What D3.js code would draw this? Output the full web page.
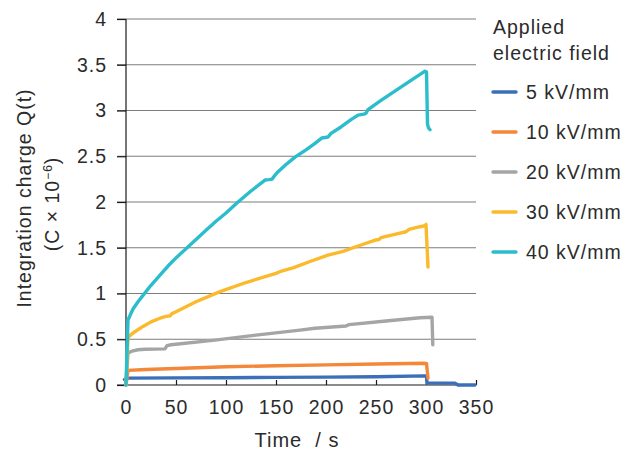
<!DOCTYPE html>
<html>
<head>
<meta charset="utf-8">
<script src="https://cdn.jsdelivr.net/npm/d3@7"></script>
<style>
  html, body { margin: 0; padding: 0; background: #fff; }
  svg { display: block; font-family: "Liberation Sans", Arial, Helvetica, sans-serif; }
  svg text { letter-spacing: 1px; }
</style>
</head>
<body>
<svg id="chart" width="641" height="453"></svg>
<script>
// Integration charge Q(t) (×10^-6 C) against time (s) for each applied field
const fieldLabels = ["5 kV/mm", "10 kV/mm", "20 kV/mm", "30 kV/mm", "40 kV/mm"];
const seriesColors = ["#3b6fb8", "#f3873a", "#a4a6a5", "#fbb92c", "#2bbdcc"];

const t5  = [-1.5, 2, 50, 100, 150, 200, 250, 299, 300.5, 301, 329, 332, 349];
const q5  = [0.06, 0.075, 0.078, 0.08, 0.083, 0.086, 0.09, 0.10, 0.10, 0.02, 0.02, 0.0, 0.0];

const t10 = [0, 2, 20, 50, 100, 150, 200, 250, 299, 300.5, 302];
const q10 = [0, 0.16, 0.17, 0.18, 0.20, 0.21, 0.22, 0.23, 0.237, 0.235, 0.075];

const t20 = [0, 2, 6, 12, 19, 39, 41, 45, 89, 130, 174, 189, 220, 223, 260, 294, 306, 306.8];
const q20 = [0, 0.35, 0.37, 0.385, 0.39, 0.395, 0.43, 0.44, 0.49, 0.545, 0.60, 0.62, 0.645, 0.66, 0.70, 0.735, 0.74, 0.44];

const t30 = [0, 2, 6, 10, 17, 25, 34, 40, 44, 46, 50, 70, 94, 120, 150, 153, 157, 167, 184, 202, 217, 235, 250, 253, 255, 274, 280, 283, 294, 299, 300, 302];
const q30 = [0, 0.52, 0.56, 0.59, 0.64, 0.69, 0.73, 0.75, 0.755, 0.78, 0.80, 0.91, 1.02, 1.12, 1.22, 1.235, 1.25, 1.28, 1.35, 1.42, 1.46, 1.53, 1.585, 1.59, 1.61, 1.66, 1.675, 1.70, 1.73, 1.74, 1.755, 1.29];

const t40 = [0, 2, 4, 7, 12, 17, 25, 34, 42, 51, 60, 70, 80, 90, 100, 112, 125, 139, 143, 146, 148, 151, 160, 169, 180, 189, 196, 202, 205, 215, 225, 232, 238, 240, 242, 255, 270, 285, 299, 300.5, 301.5, 302.5, 304];
const q40 = [0, 0.71, 0.76, 0.83, 0.91, 0.98, 1.09, 1.20, 1.30, 1.40, 1.49, 1.59, 1.69, 1.79, 1.88, 2.00, 2.12, 2.24, 2.245, 2.25, 2.28, 2.32, 2.41, 2.49, 2.57, 2.64, 2.70, 2.71, 2.75, 2.82, 2.90, 2.95, 2.96, 2.97, 3.01, 3.11, 3.22, 3.33, 3.43, 3.42, 2.85, 2.81, 2.79];

const xTicks = [0, 50, 100, 150, 200, 250, 300, 350];
const yTicks = [0, 0.5, 1, 1.5, 2, 2.5, 3, 3.5, 4];
const yTickLabels = ["0", "0.5", "1", "1.5", "2", "2.5", "3", "3.5", "4"];

const seriesT = [t5, t10, t20, t30, t40];
const seriesQ = [q5, q10, q20, q30, q40];

const svg = d3.select("#chart");
const textColor = "#2b2b2b";
const fontSize = 19.5;

const x = d3.scaleLinear().domain([0, 350]).range([126, 476]);
const y = d3.scaleLinear().domain([0, 4]).range([385, 19]);

// horizontal grid lines (extending left of the axis as tick marks)
svg.append("g")
  .selectAll("line")
  .data(yTicks.filter(v => v > 0))
  .join("line")
  .attr("x1", 117).attr("x2", 476)
  .attr("y1", d => y(d)).attr("y2", d => y(d))
  .attr("stroke", "#7d7d7d").attr("stroke-width", 1.2);

// y axis
const yAxis = svg.append("g")
  .attr("transform", `translate(${x(0)},0)`)
  .call(d3.axisLeft(y).tickValues(yTicks).tickFormat((d, i) => yTickLabels[i]).tickSize(9).tickPadding(10));
yAxis.select(".domain").attr("stroke", "#1a1a1a").attr("stroke-width", 1.2).attr("d", `M0,${y(4)}V${y(0)}`);
yAxis.selectAll(".tick line").attr("stroke", "#1a1a1a").attr("stroke-width", 1.2);
yAxis.selectAll(".tick text").attr("fill", textColor).attr("font-size", fontSize);

// x axis with inward tick marks
const xAxis = svg.append("g")
  .attr("transform", `translate(0,${y(0)})`)
  .call(d3.axisBottom(x).tickValues(xTicks).tickSize(-5).tickPadding(15));
xAxis.select(".domain").attr("stroke", "#1a1a1a").attr("stroke-width", 1.2).attr("d", `M117,0H${x(350)}`);
xAxis.selectAll(".tick line").attr("stroke", "#1a1a1a").attr("stroke-width", 1.2);
xAxis.selectAll(".tick text").attr("fill", textColor).attr("font-size", fontSize);

// series curves
const lineGen = d3.line().x(d => x(d[0])).y(d => y(d[1]));
seriesT.forEach((ts, i) => {
  const pts = ts.map((t, j) => [t, seriesQ[i][j]]);
  svg.append("path")
    .datum(pts)
    .attr("d", lineGen)
    .attr("fill", "none")
    .attr("stroke", seriesColors[i])
    .attr("stroke-width", 3.4)
    .attr("stroke-linejoin", "round")
    .attr("stroke-linecap", "round");
});

// axis titles
svg.append("text")
  .attr("x", 297).attr("y", 447)
  .attr("text-anchor", "middle")
  .attr("fill", textColor).attr("font-size", 20)
  .attr("xml:space", "preserve")
  .text("Time  / s");

const yTitle = svg.append("g").attr("transform", "translate(0,198) rotate(-90)");
yTitle.append("text")
  .attr("x", 0).attr("y", 31)
  .attr("text-anchor", "middle")
  .attr("fill", textColor).attr("font-size", fontSize)
  .attr("letter-spacing", 0.3)
  .text("Integration charge Q(t)");
const unit = yTitle.append("text")
  .attr("x", -6).attr("y", 59)
  .attr("text-anchor", "middle")
  .attr("fill", textColor).attr("font-size", fontSize)
  .attr("letter-spacing", 0.3);
unit.append("tspan").text("(C × 10");
unit.append("tspan").attr("dy", -7).attr("font-size", 12).text("−6");
unit.append("tspan").attr("dy", 7).text(")");

// legend
const legend = svg.append("g");
legend.append("text").attr("x", 493).attr("y", 34).attr("fill", textColor).attr("font-size", fontSize).text("Applied");
legend.append("text").attr("x", 493).attr("y", 60).attr("fill", textColor).attr("font-size", fontSize).text("electric field");
const legendY = d3.scalePoint().domain(fieldLabels).range([92, 252]);
fieldLabels.forEach((lab, i) => {
  legend.append("line")
    .attr("x1", 493).attr("x2", 516)
    .attr("y1", legendY(lab)).attr("y2", legendY(lab))
    .attr("stroke", seriesColors[i]).attr("stroke-width", 3.4).attr("stroke-linecap", "round");
  legend.append("text")
    .attr("x", 526).attr("y", legendY(lab))
    .attr("dy", "0.36em")
    .attr("fill", textColor).attr("font-size", fontSize)
    .text(lab);
});
</script>
</body>
</html>
